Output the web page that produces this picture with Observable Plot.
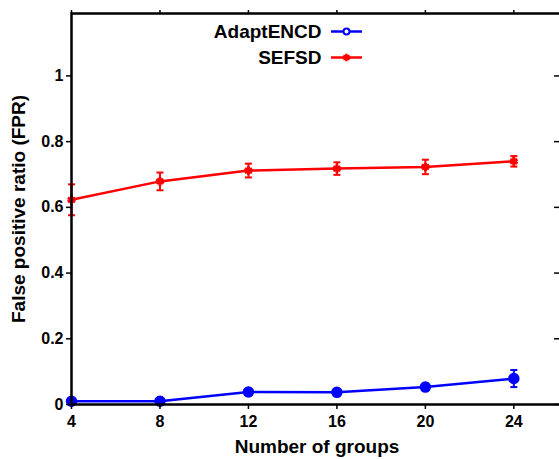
<!DOCTYPE html>
<html>
<head>
<meta charset="utf-8">
<script src="https://cdn.jsdelivr.net/npm/d3@7"></script>
<script src="https://cdn.jsdelivr.net/npm/@observablehq/plot@0.6"></script>
<style>
  html, body { margin: 0; padding: 0; overflow: hidden; background: #fff; }
  #chart svg { display: block; max-width: none !important; }
</style>
</head>
<body>
<div id="chart"></div>
<script>
// ---- data ----
const groups = [4, 8, 12, 16, 20, 24];
const adaptMean = [0.010, 0.010, 0.038, 0.037, 0.053, 0.079];
const adaptErr  = [0.004, 0.004, 0.010, 0.006, 0.010, 0.026];
const sefsdMean = [0.623, 0.679, 0.712, 0.718, 0.723, 0.740];
const sefsdErr  = [0.047, 0.027, 0.021, 0.019, 0.022, 0.016];
const seriesNames = ["AdaptENCD", "SEFSD"];
const seriesColors = ["#0000ff", "#ff0000"];
const xTicks = [4, 8, 12, 16, 20, 24];
const yTicks = [0, 0.2, 0.4, 0.6, 0.8, 1];
const xTitle = "Number of groups";
const yTitle = "False positive ratio (FPR)";

const rows = [];
groups.forEach((g, i) => {
  rows.push({series: seriesNames[0], x: g, y: adaptMean[i], e: adaptErr[i]});
  rows.push({series: seriesNames[1], x: g, y: sefsdMean[i], e: sefsdErr[i]});
});
const blue = rows.filter(d => d.series === seriesNames[0]);
const red = rows.filter(d => d.series === seriesNames[1]);

const W = 565, H = 459, ML = 71, MR = 3, MT = 13, MB = 55;
const plotW = W - ML - MR;
const font = "Liberation Sans, Arial, Helvetica, sans-serif";

const capSymbol = {
  draw(ctx, size) {
    const r = 3.5;
    ctx.moveTo(-r, 0); ctx.lineTo(r, 0);
  }
};

function errorMarks(data, color) {
  return [
    Plot.ruleX(data, {x: "x", y1: d => d.y - d.e, y2: d => d.y + d.e, stroke: color, strokeWidth: 2}),
    Plot.dot(data, {x: "x", y: d => d.y - d.e, symbol: capSymbol, stroke: color, strokeWidth: 2}),
    Plot.dot(data, {x: "x", y: d => d.y + d.e, symbol: capSymbol, stroke: color, strokeWidth: 2})
  ];
}

const legendMarks = [];
seriesNames.forEach((name, i) => {
  const dy = 31 - MT + 26 * i;
  const color = seriesColors[i];
  legendMarks.push(
    Plot.text([name], {frameAnchor: "top-left", text: d => d, dx: 321 - ML, dy: dy,
      textAnchor: "end", lineAnchor: "middle", fontSize: 19, fontWeight: "bold", fill: "black", fontFamily: font}),
    Plot.ruleY([1.19], {stroke: color, strokeWidth: 2.5, insetLeft: 331 - ML, insetRight: W - MR - 362, dy: dy})
  );
  if (i === 0) {
    legendMarks.push(Plot.dot([0], {frameAnchor: "top-left", dx: 346 - ML, dy: dy, r: 3, stroke: color, fill: "white", strokeWidth: 2}));
  } else {
    legendMarks.push(Plot.dot([0], {frameAnchor: "top-left", dx: 346 - ML, dy: dy, r: 3.5, symbol: "asterisk", stroke: color, strokeWidth: 2.5}));
  }
});

const chart = Plot.plot({
  width: W, height: H,
  marginLeft: ML, marginRight: MR, marginTop: MT, marginBottom: MB,
  style: {fontFamily: font, background: "white", overflow: "visible", maxWidth: "none"},
  x: {domain: [4, 26.2]},
  y: {domain: [0, 1.19]},
  marks: [
    // error bars
    ...errorMarks(blue, seriesColors[0]),
    ...errorMarks(red, seriesColors[1]),
    // lines
    Plot.line(blue, {x: "x", y: "y", stroke: seriesColors[0], strokeWidth: 2.5}),
    Plot.line(red, {x: "x", y: "y", stroke: seriesColors[1], strokeWidth: 2.5}),
    // points
    Plot.dot(blue, {x: "x", y: "y", r: 5, fill: seriesColors[0], stroke: seriesColors[0]}),
    Plot.dot(red, {x: "x", y: "y", r: 4, symbol: "asterisk", stroke: seriesColors[1], strokeWidth: 3}),
    Plot.dot(red, {x: "x", y: "y", r: 3, symbol: "square", fill: seriesColors[1]}),
    // axes
    Plot.axisY({ticks: yTicks, tickSize: 5, tickPadding: 3, label: null, fontSize: 16, fontWeight: "bold", fill: "black", stroke: "black", strokeWidth: 1.5, tickFormat: d => String(d)}),
    Plot.axisX({ticks: xTicks, tickSize: 5, tickPadding: 6, label: null, fontSize: 16, fontWeight: "bold", fill: "black", stroke: "black", strokeWidth: 1.5}),
    Plot.axisX({anchor: "top", ticks: xTicks, tickSize: 4, label: null, tickFormat: () => "", stroke: "black", strokeWidth: 1.5}),
    Plot.tickY(yTicks, {y: d => d, insetLeft: plotW - 8, stroke: "black", strokeWidth: 1.5}),
    Plot.frame({stroke: "black", strokeWidth: 2.5}),
    // titles
    Plot.text([xTitle], {frameAnchor: "bottom", text: d => d, dy: 42.5, textAnchor: "middle", lineAnchor: "middle", fontSize: 19, fontWeight: "bold", fill: "black", fontFamily: font}),
    Plot.text([yTitle], {frameAnchor: "left", text: d => d, dx: 18 - ML, rotate: -90, textAnchor: "middle", lineAnchor: "middle", fontSize: 19, fontWeight: "bold", fill: "black", fontFamily: font}),
    ...legendMarks
  ]
});
document.getElementById("chart").appendChild(chart);
</script>
</body>
</html>
